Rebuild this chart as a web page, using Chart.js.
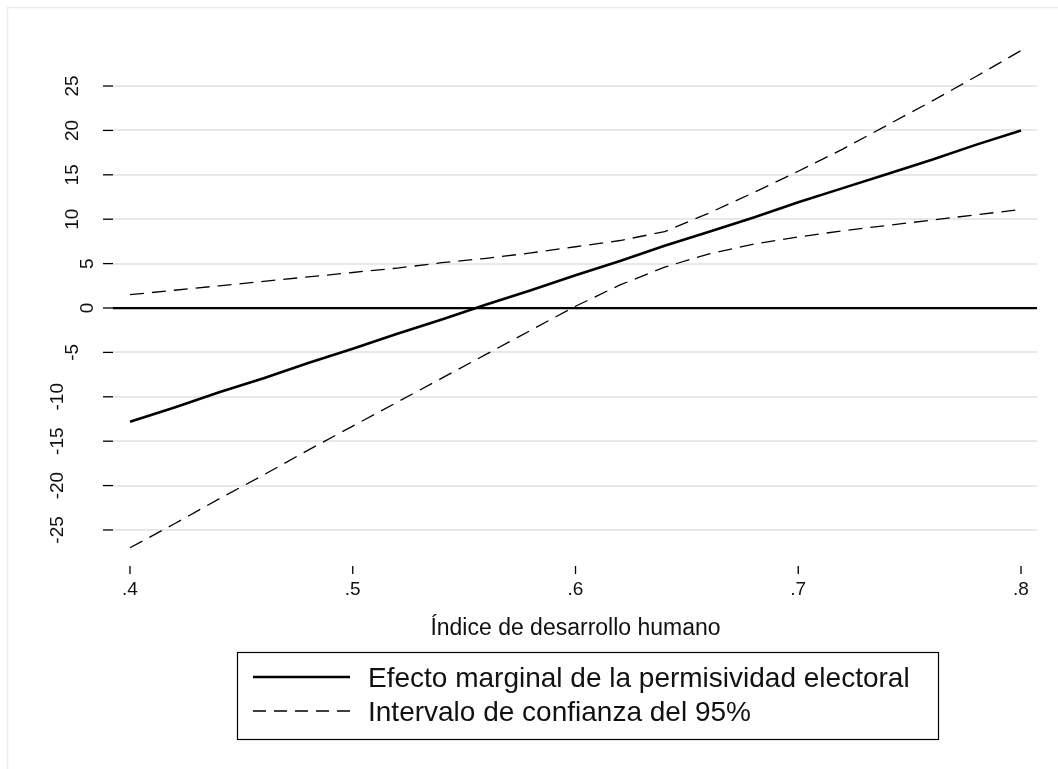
<!DOCTYPE html>
<html>
<head>
<meta charset="utf-8">
<script src="https://cdn.jsdelivr.net/npm/chart.js@4"></script>
<style>
  html, body { margin: 0; padding: 0; background: #fff; }
  #wrap { width: 1058px; height: 769px; position: relative; }
</style>
</head>
<body>
<div id="wrap"><canvas id="chart" width="1058" height="769"></canvas></div>
<script>
// Datos
const hdi = [0.40, 0.42, 0.44, 0.46, 0.48, 0.50, 0.52, 0.54, 0.56, 0.58, 0.60,
             0.62, 0.64, 0.66, 0.68, 0.70, 0.72, 0.74, 0.76, 0.78, 0.80];
const efecto = [-12.8, -11.2, -9.5, -7.9, -6.2, -4.6, -2.9, -1.3, 0.4, 2.0, 3.7,
                5.3, 7.0, 8.6, 10.2, 11.9, 13.5, 15.1, 16.7, 18.4, 20.0];
const ciLow = [-27.0, -24.3, -21.5, -18.8, -16.0, -13.3, -10.6, -7.9, -5.2, -2.5, 0.2,
               2.6, 4.6, 6.1, 7.2, 8.0, 8.7, 9.3, 9.9, 10.5, 11.1];
const ciHigh = [1.5, 2.0, 2.5, 3.0, 3.5, 4.0, 4.5, 5.1, 5.6, 6.2, 6.9,
                7.6, 8.6, 10.7, 13.0, 15.4, 17.9, 20.6, 23.3, 26.1, 29.0];
const xTicks = [0.4, 0.5, 0.6, 0.7, 0.8];
const xTickLabels = ['.4', '.5', '.6', '.7', '.8'];
const yTicks = [-25, -20, -15, -10, -5, 0, 5, 10, 15, 20, 25];
const legendLabels = ['Efecto marginal de la permisividad electoral', 'Intervalo de confianza del 95%'];
const xTitle = 'Índice de desarrollo humano';

const FONT = '"Liberation Sans", Arial, Helvetica, sans-serif';
const DASH = [14, 8];

function pts(ys) {
    return hdi.map((x, i) => ({ x: x, y: ys[i] }));
}

// Ejes, marcas, titulo y leyenda dibujados a mano (estilo Stata)
const stataDecor = {
    id: 'stataDecor',
    beforeDraw(chart) {
        const ctx = chart.ctx;
        ctx.save();
        ctx.strokeStyle = '#ebebeb';
        ctx.lineWidth = 1.5;
        ctx.beginPath();
        ctx.moveTo(7.5, 769);
        ctx.lineTo(7.5, 7.5);
        ctx.lineTo(1058, 7.5);
        ctx.stroke();
        ctx.restore();
    },
    afterDraw(chart) {
        const ctx = chart.ctx;
        const xs = chart.scales.x;
        const ys = chart.scales.y;
        const area = chart.chartArea;
        ctx.save();
        ctx.strokeStyle = '#000';
        ctx.fillStyle = '#111';
        ctx.lineWidth = 1.3;

        // eje y: marcas y etiquetas verticales
        ctx.font = '19px ' + FONT;
        ctx.textAlign = 'center';
        ctx.textBaseline = 'middle';
        yTicks.forEach(v => {
            const py = ys.getPixelForValue(v);
            ctx.beginPath();
            ctx.moveTo(area.left - 10, py);
            ctx.lineTo(area.left, py);
            ctx.stroke();
            const label = String(v);
            const cx = area.left - 26.5 - 15 * (label.length - 1);
            ctx.save();
            ctx.translate(cx, py);
            ctx.rotate(-Math.PI / 2);
            ctx.fillText(label, 0, 1);
            ctx.restore();
        });

        // eje x: marcas y etiquetas
        xTicks.forEach((v, i) => {
            const px = xs.getPixelForValue(v);
            ctx.beginPath();
            ctx.moveTo(px, area.bottom + 3);
            ctx.lineTo(px, area.bottom + 11);
            ctx.stroke();
            ctx.fillText(xTickLabels[i], px, area.bottom + 27);
        });

        // titulo del eje x
        ctx.font = '23px ' + FONT;
        const midX = (xs.getPixelForValue(xTicks[0]) + xs.getPixelForValue(xTicks[xTicks.length - 1])) / 2;
        ctx.fillText(xTitle, midX, area.bottom + 66);

        // leyenda
        const box = { left: 237.5, top: 652.5, right: 938.5, bottom: 739.5 };
        ctx.lineWidth = 1.2;
        ctx.strokeStyle = '#000';
        ctx.strokeRect(box.left, box.top, box.right - box.left, box.bottom - box.top);
        const rows = [679, 713];
        ctx.font = '28px ' + FONT;
        ctx.textAlign = 'left';
        rows.forEach((ry, i) => {
            const ds = chart.data.datasets[i === 0 ? 0 : 1];
            ctx.save();
            ctx.lineWidth = ds.borderWidth;
            ctx.setLineDash(i === 0 ? [] : [13, 8]);
            ctx.beginPath();
            ctx.moveTo(253, ry - 2);
            ctx.lineTo(350, ry - 2);
            ctx.stroke();
            ctx.restore();
            ctx.fillText(legendLabels[i], 368, ry);
        });
        ctx.restore();
    }
};

new Chart(document.getElementById('chart'), {
    type: 'line',
    data: {
        datasets: [
            {
                label: legendLabels[0],
                data: pts(efecto),
                borderColor: '#000',
                borderWidth: 2.6,
                pointRadius: 0,
                tension: 0,
                fill: false
            },
            {
                label: legendLabels[1],
                data: pts(ciHigh),
                borderColor: '#000',
                borderWidth: 1.3,
                borderDash: DASH,
                pointRadius: 0,
                tension: 0,
                fill: false
            },
            {
                label: 'ci_low',
                data: pts(ciLow),
                borderColor: '#000',
                borderWidth: 1.3,
                borderDash: DASH,
                pointRadius: 0,
                tension: 0,
                fill: false
            }
        ]
    },
    options: {
        responsive: false,
        animation: false,
        events: [],
        layout: { padding: { left: 113, right: 21, top: 30, bottom: 206 } },
        plugins: {
            legend: { display: false },
            tooltip: { enabled: false }
        },
        scales: {
            x: {
                type: 'linear',
                min: 0.39237,
                max: 0.80718,
                grid: { display: false, drawTicks: false },
                border: { display: false },
                ticks: { display: false }
            },
            y: {
                type: 'linear',
                min: -28.72,
                max: 31.31,
                afterBuildTicks: s => { s.ticks = yTicks.map(v => ({ value: v })); },
                grid: {
                    drawTicks: false,
                    color: c => (c.tick && c.tick.value === 0 ? '#000' : '#e8e8e8'),
                    lineWidth: c => (c.tick && c.tick.value === 0 ? 2.2 : 2)
                },
                border: { display: false },
                ticks: { display: false }
            }
        }
    },
    plugins: [stataDecor]
});
</script>
</body>
</html>
